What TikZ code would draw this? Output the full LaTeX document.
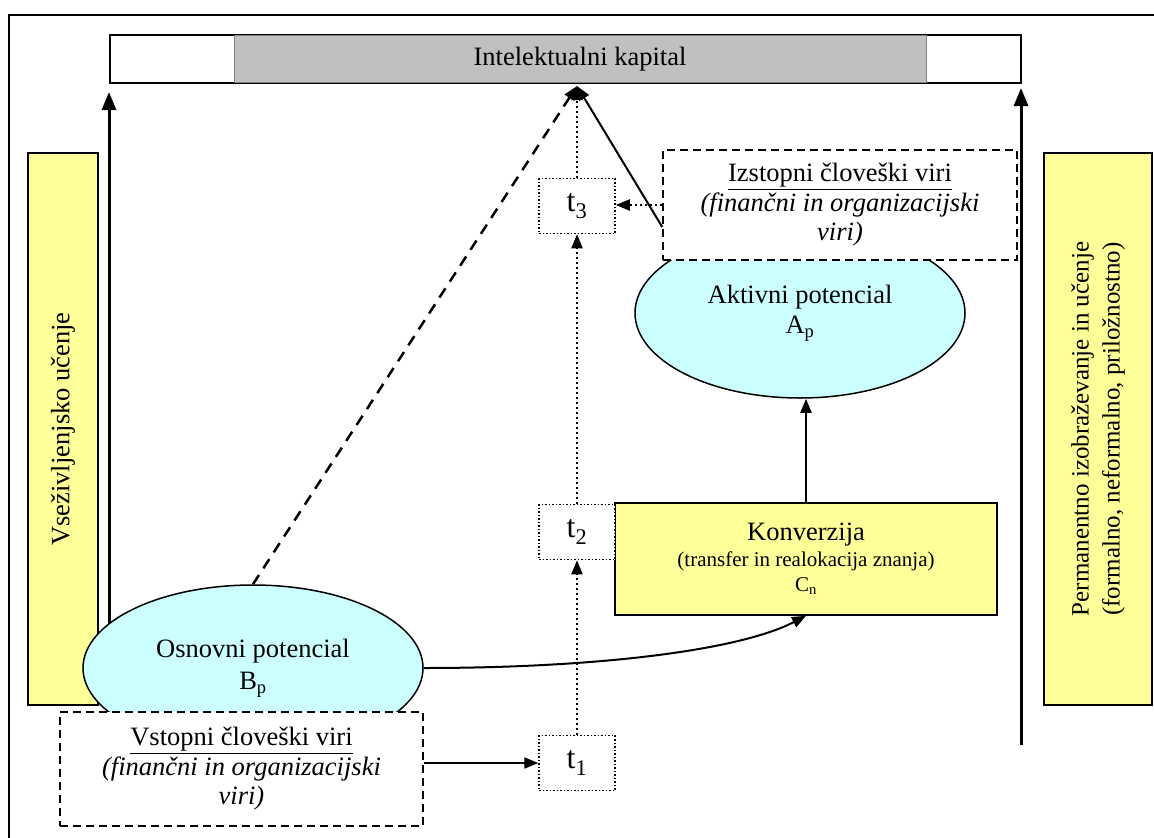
\documentclass[tikz,border=0pt]{standalone}
\usepackage{fontspec}
\setmainfont{Liberation Serif}
\usetikzlibrary{arrows.meta,shapes.geometric,calc}
\definecolor{boxyellow}{HTML}{FFFF99}
\definecolor{potcyan}{HTML}{CCFFFF}
\definecolor{capgray}{HTML}{C0C0C0}
\tikzset{
  txt/.style={font=\fontsize{26.5}{30}\selectfont},
  ybox/.style={draw, line width=1.5pt, fill=boxyellow, inner sep=0pt},
  pot/.style={ellipse, draw, line width=1.5pt, fill=potcyan, inner sep=0pt, align=center, txt},
  srcbox/.style={draw, dash pattern=on 8pt off 5pt, line width=1.5pt, fill=white,
    align=center, inner sep=0pt, font=\fontsize{26.5}{29.5}\selectfont},
  tbox/.style={draw, dash pattern=on 1.5pt off 2pt, line width=1.5pt, fill=white,
    minimum width=76pt, minimum height=55pt, inner sep=0pt, font=\fontsize{32}{32}\selectfont},
  tip/.style={-{Triangle[length=14pt,width=11pt]}},
  conn/.style={line width=2pt, tip},
  dotconn/.style={line width=2pt, dash pattern=on 2pt off 3pt, tip},
  dashconn/.style={line width=2.5pt, dash pattern=on 11pt off 8pt, tip},
  axisarrow/.style={line width=3pt, -{Triangle[length=18pt,width=14pt]}},
}
\begin{document}
\begin{tikzpicture}[x=1pt,y=-1pt]
\useasboundingbox (0,0) rectangle (1154,838);

% outer frame
\draw[line width=1.5pt] (9,838) -- (9,15) -- (1154,15);

% intellectual capital bar
\node[draw, line width=1.5pt, minimum width=911pt, minimum height=48pt, inner sep=0pt] (icframe) at (565.5,59) {};
\node[fill=capgray, draw=gray, line width=1pt, minimum width=692pt, minimum height=47pt, inner sep=0pt, txt] (ic) at (580,59) {Intelektualni kapital};

% side bars
\node[ybox, rotate=90, minimum width=552pt, minimum height=70pt, txt] (vsez) at (63,429) {Vseživljenjsko učenje};
\node[ybox, rotate=90, minimum width=552pt, minimum height=108pt, align=center,
  font=\fontsize{25}{31}\selectfont] (perm) at (1098,429) {Permanentno izobraževanje in učenje\\(formalno, neformalno, priložnostno)};

% long vertical arrows
\coordinate (lifeBase) at (109,712);
\coordinate (lifeTip) at (109,92);
\coordinate (permBase) at (1021,745);
\coordinate (permTip) at (1021,88);
\draw[axisarrow] (lifeBase) -- (lifeTip);
\draw[axisarrow] (permBase) -- (permTip);

% active potential and outgoing resources
\node[pot, minimum width=330pt, minimum height=170pt] (akt) at (800,313) {Aktivni potencial\\A\textsubscript{p}};
\node[srcbox, minimum width=354pt, minimum height=110pt] (izs) at (840,205)
  {\underline{Izstopni človeški viri}\\\textit{(finančni in organizacijski}\\\textit{viri)}};

% conversion
\node[ybox, minimum width=382pt, minimum height=112pt, align=center,
  font=\fontsize{21}{25.5}\selectfont] (konv) at (806,559)
  {{\fontsize{26.5}{25.5}\selectfont Konverzija}\\(transfer in realokacija znanja)\\C\textsubscript{n}};

% time steps
\node[tbox] (t3) at (577,206) {t\textsubscript{3}};
\node[tbox] (t2) at (577,532) {t\textsubscript{2}};
\node[tbox] (t1) at (577,763) {t\textsubscript{1}};

% basic potential and incoming resources
\node[pot, minimum width=340pt, minimum height=166pt] (osn) at (253,668) {Osnovni potencial\\[2pt]B\textsubscript{p}};
\node[srcbox, minimum width=363pt, minimum height=114pt] (vst) at (241.5,769)
  {\underline{Vstopni človeški viri}\\\textit{(finančni in organizacijski}\\\textit{viri)}};

% connectors
\coordinate (apex) at (577,86);
\draw[dashconn] (osn.north) -- (apex);
\draw[dotconn] (t3.north) -- (apex);
\draw[conn] ([yshift=-22pt]izs.west) -- (apex);
\draw[dotconn] (izs.west) -- (izs.west -| t3.east);
\draw[dotconn] (t2.north) -- (t3.south);
\draw[dotconn] (t1.north) -- (t2.south);
\draw[conn] (konv.north) -- (konv.north |- akt.south);
\draw[conn] (osn.east) .. controls (600,668) and (740,650) .. (konv.south);
\draw[conn] (vst.east |- t1.west) -- (t1.west);
\end{tikzpicture}
\end{document}
